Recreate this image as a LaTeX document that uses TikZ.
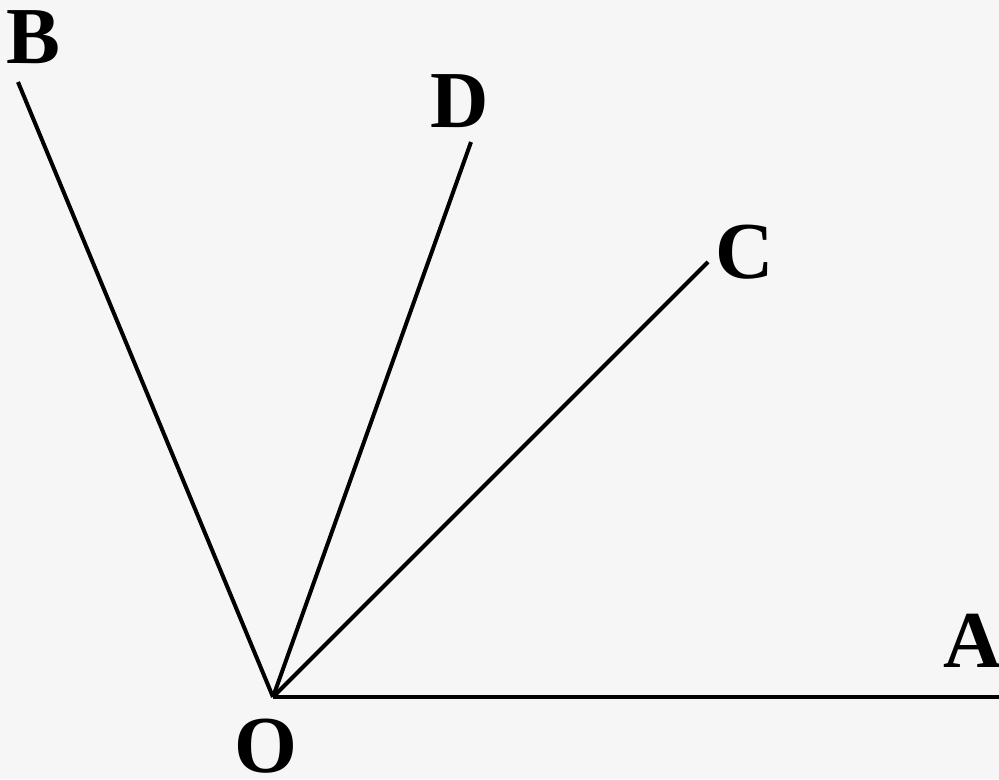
\documentclass[tikz,border=0pt]{standalone}
\usepackage{fontspec}
\setmainfont{Liberation Serif}
\usetikzlibrary{positioning}

\begin{document}
\begin{tikzpicture}[x=0.02cm, y=-0.02cm,
    ray/.style={line width=0.08cm},
    pt/.style={font=\fontsize{46}{46}\selectfont\bfseries, inner sep=0pt}]
    % background
    \fill[gray!7] (0,0) rectangle (999,779);
    \useasboundingbox (0,0) rectangle (999,779);

    % Rays
    \coordinate (o) at (273,697);
    \coordinate (a) at (999,697);
    \coordinate (b) at (18,82);
    \coordinate (d) at (471,142);
    \coordinate (c) at (708,262);
    \draw[ray] (o) -- (a);
    \draw[ray] (o) -- (b);
    \draw[ray] (o) -- (d);
    \draw[ray] (o) -- (c);

    % Labels
    \node[pt] (label_o) at (266,746) {O};
    \node[pt] (label_a) at (973,641) {A};
    \node[pt] (label_b) at (33,37) {B};
    \node[pt] (label_d) at (460,101) {D};
    \node[pt] (label_c) at (745,252) {C};
\end{tikzpicture}
\end{document}
